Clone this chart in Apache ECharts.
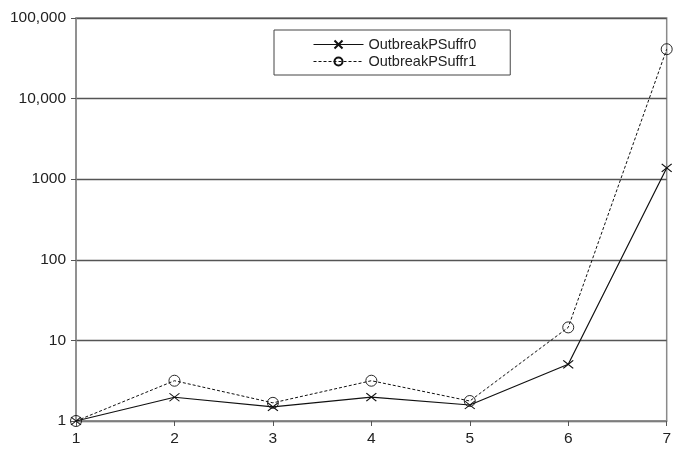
<!DOCTYPE html>
<html><head><meta charset="utf-8">
<script src="https://cdn.jsdelivr.net/npm/echarts@6/dist/echarts.min.js"></script>
<style>html,body{margin:0;padding:0;background:#fff}#c{width:674px;height:460px}</style>
</head><body><div id="c"></div>
<script>
var xValues = [1, 2, 3, 4, 5, 6, 7];
var seriesNames = ['OutbreakPSuffr0', 'OutbreakPSuffr1'];
var suffr0 = [1, 1.97, 1.5, 1.98, 1.58, 5.05, 1380];
var suffr1 = [1, 3.16, 1.68, 3.16, 1.77, 14.5, 41000];
var yTickLabels = {1: '1', 10: '10', 100: '100', 1000: '1000', 10000: '10,000', 100000: '100,000'};

var chart = echarts.init(document.getElementById('c'));
var crossPath = 'path://M0,0L10,8M10,0L0,8';
chart.setOption({
  animation: false,
  textStyle: {fontFamily: 'Liberation Sans, Arial, sans-serif'},
  grid: {left: 76, right: 2, top: 18, bottom: 39, show: true, borderColor: '#8a8a8a', borderWidth: 1.5},
  legend: {
    orient: 'vertical', left: 274, top: 30,
    padding: [7, 34, 6, 39], itemGap: 2,
    itemWidth: 50, itemHeight: 10,
    borderColor: '#444', borderWidth: 1,
    lineStyle: {width: 1},
    textStyle: {fontSize: 14.5, color: '#222', fontFamily: 'Liberation Sans, Arial, sans-serif'},
    data: seriesNames
  },
  xAxis: {
    type: 'value', min: 1, max: 7, interval: 1,
    axisLine: {lineStyle: {color: '#8a8a8a', width: 1.5}},
    axisTick: {show: true, length: 5, lineStyle: {color: '#555'}},
    axisLabel: {fontSize: 15.5, color: '#222', margin: 10},
    splitLine: {show: false}
  },
  yAxis: {
    type: 'log', logBase: 10, min: 1, max: 100000,
    axisLine: {show: true, lineStyle: {color: '#8a8a8a', width: 1.5}},
    axisTick: {show: true, length: 5, lineStyle: {color: '#555'}},
    axisLabel: {fontSize: 15.5, color: '#222', margin: 10,
      formatter: function (v) { return yTickLabels[Math.round(v)] || ''; }},
    splitLine: {show: true, lineStyle: {color: '#555', width: 1.3}},
    minorTick: {show: false}
  },
  series: [
    {
      name: seriesNames[0], type: 'line',
      data: xValues.map(function (x, i) { return [x, suffr0[i]]; }),
      symbol: crossPath, symbolSize: [10, 8],
      itemStyle: {color: '#111', borderColor: '#111', borderWidth: 1.1},
      lineStyle: {color: '#111', width: 1.2, type: 'solid'}
    },
    {
      name: seriesNames[1], type: 'line',
      data: xValues.map(function (x, i) { return [x, suffr1[i]]; }),
      symbol: 'circle', symbolSize: 11,
      itemStyle: {color: 'rgba(255,255,255,0)', borderColor: '#111', borderWidth: 0.9},
      lineStyle: {color: '#111', width: 1, type: [3, 2]}
    }
  ]
});
</script></body></html>
